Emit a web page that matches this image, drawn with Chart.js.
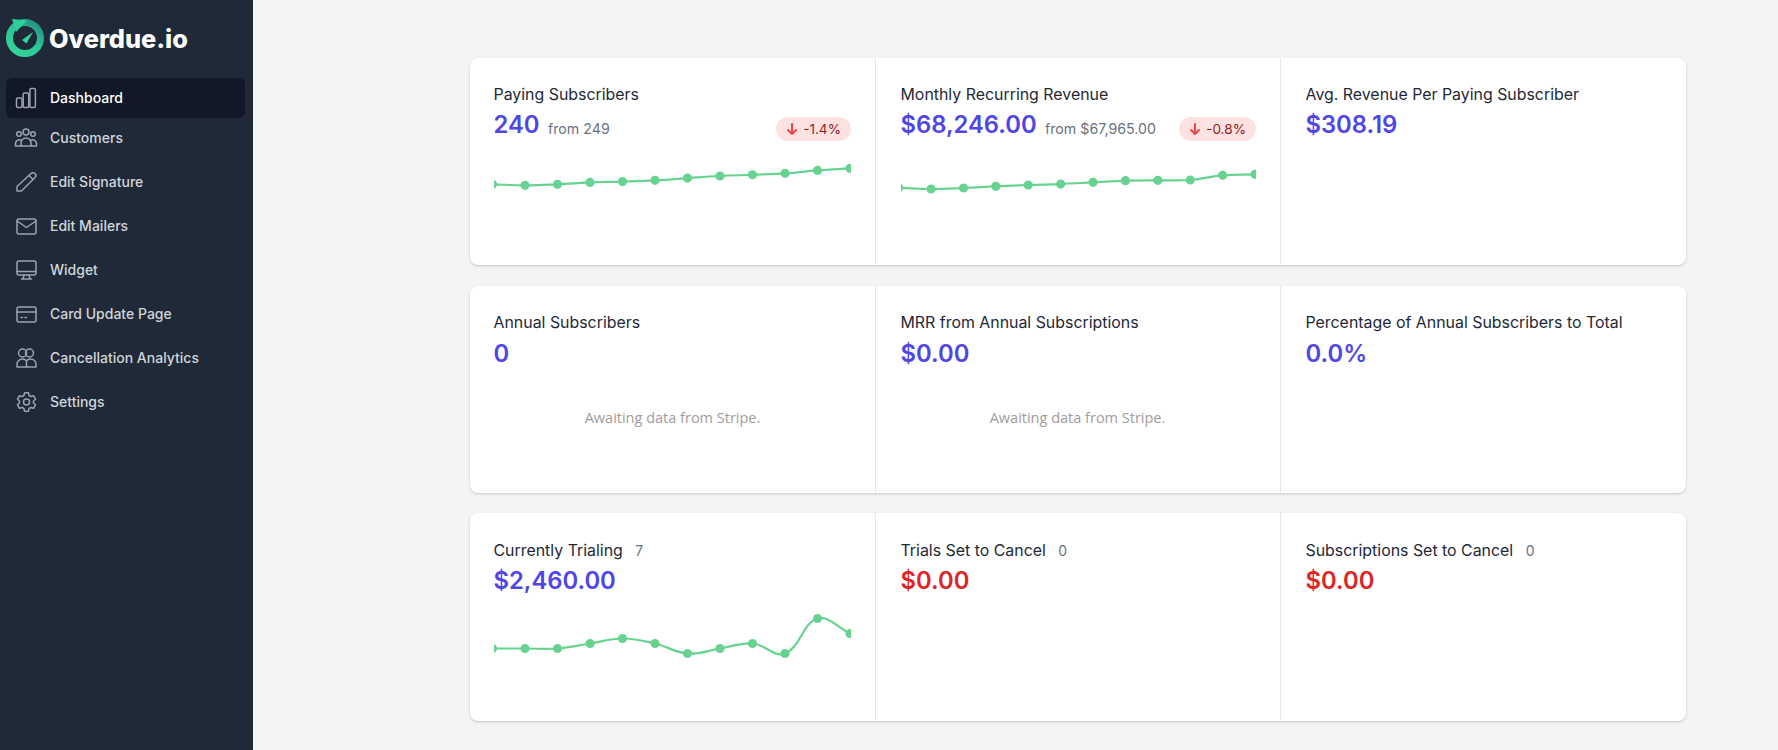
<!DOCTYPE html>
<html lang="en">
<head>
  <meta charset="UTF-8">
  <title>Overdue.io Dashboard</title>
  <style>
    * { box-sizing: border-box; }
    html, body { margin: 0; height: 100%; overflow: hidden; }
    body { background: #f3f4f6; font-family: Inter, "Noto Sans", sans-serif; color: #111827; }
    .abs, .nav, .title, .value, .from, .badge, .await { position: absolute; white-space: nowrap; }

    /* sidebar */
    #side { position: absolute; left: 0; top: 0; width: 253px; height: 750px; background: #1f2937; }
    #brand { position: absolute; left: 49px; top: 20px; font-size: 25.3px; font-weight: 800; line-height: 38px; color: #fff; }
    #active { position: absolute; left: 6px; top: 78px; width: 239px; height: 40px; border-radius: 6px; background: #111827; }
    .nav { left: 50px; font-size: 14px; font-weight: 500; line-height: 20px; color: #d1d5db; }
    .nav.on { color: #fff; }
    .ico { position: absolute; left: 14px; width: 24px; height: 24px; fill: none; stroke: #9ca3af; stroke-width: 1.5; stroke-linecap: round; stroke-linejoin: round; }

    /* cards */
    .card { position: absolute; left: 470px; width: 1216px; height: 207px; background: #fff; border-radius: 8px; box-shadow: 0 1px 3px rgba(0,0,0,.12), 0 1px 2px rgba(0,0,0,.08); }
    .div { position: absolute; top: 0; width: 1px; height: 100%; background: #e5e7eb; }
    .title { font-size: 15.9px; line-height: 24px; color: #1f2937; top: 25px; }
    .title span { margin-left: 8px; font-size: 14px; color: #6b7280; }
    .value { font-size: 23.8px; font-weight: 600; line-height: 36px; color: #4f46e5; top: 49px; }
    .value.red { color: #dc2626; }
    .from { font-size: 14.2px; line-height: 20px; color: #6b7280; top: 61px; }
    .badge { height: 24px; border-radius: 12px; background: #fee2e2; color: #991b1b; font-size: 13.6px; line-height: 24px; text-align: right; padding-right: 10px; top: 59px; }
    .badge svg { position: absolute; left: 9px; top: 5px; width: 14px; height: 14px; fill: none; stroke: #ef4444; stroke-width: 2; stroke-linecap: round; stroke-linejoin: round; }
    .await { width: 357px; text-align: center; font-family: "Open Sans", sans-serif; font-size: 14.5px; line-height: 20px; color: #a09c9c; top: 122px; }
    .spark { position: absolute; top: 100px; height: 60px; overflow: hidden; }
    .spark canvas { position: absolute; top: 0; }
    .lower .value { top: 50px; }
    #row3 .title { top: 26px; }
  </style>
</head>
<body>
  <div id="side">
    <svg class="abs" style="left:5px;top:17px" width="40" height="42" viewBox="0 0 40 42">
      <defs><linearGradient id="g" x1="0.9" y1="0" x2="0.2" y2="1"><stop offset="0" stop-color="#24907f"/><stop offset="0.5" stop-color="#2dc596"/><stop offset="1" stop-color="#34d39a"/></linearGradient></defs>
      <circle cx="20" cy="21" r="15.500" fill="none" stroke="url(#g)" stroke-width="7"/>
      <path d="M7 2 L22 3.500 L11 15 Z" fill="#2fcf9a"/>
      <path d="M17 23 L28 15 L21.500 26.500 Z" fill="#34d399"/>
    </svg>
    <div id="brand">Overdue.io</div>
    <div id="active"></div>

    <svg class="ico" style="top:86px" viewBox="0 0 24 24"><rect x="2.500" y="12" width="5.500" height="9.500" rx="1.200"/><rect x="9.200" y="7" width="5.500" height="14.500" rx="1.200"/><rect x="15.900" y="2.500" width="5.500" height="19" rx="1.200"/></svg>
    <div class="nav on" style="top:88px">Dashboard</div>

    <svg class="ico" style="top:126px" viewBox="0 0 24 24"><circle cx="12" cy="6" r="3"/><circle cx="5" cy="8" r="2.300"/><circle cx="19" cy="8" r="2.300"/><path d="M7 20v-3a5 5 0 0 1 10 0v3z"/><path d="M7 20H1.500v-2.500A4 4 0 0 1 7 14M17 20h5.500v-2.500A4 4 0 0 0 17 14"/></svg>
    <div class="nav" style="top:128px">Customers</div>

    <svg class="ico" style="top:170px" viewBox="0 0 24 24"><path d="M17 3.500a2.800 2.800 0 0 1 4 4L7.500 21H3v-4.500z"/><path d="M15 5.500l4 4"/></svg>
    <div class="nav" style="top:172px">Edit Signature</div>

    <svg class="ico" style="top:214px" viewBox="0 0 24 24"><rect x="3" y="5" width="19" height="15" rx="2"/><path d="M3 7l9.500 6.500L22 7"/></svg>
    <div class="nav" style="top:216px">Edit Mailers</div>

    <svg class="ico" style="top:258px" viewBox="0 0 24 24"><rect x="3" y="3" width="19" height="14" rx="2"/><path d="M3 13.500h19M10 17l-1 4M15 17l1 4M7.500 21h10"/></svg>
    <div class="nav" style="top:260px">Widget</div>

    <svg class="ico" style="top:302px" viewBox="0 0 24 24"><rect x="3" y="5" width="19" height="15" rx="2"/><path d="M3 10h19M7 15.500h1.500M11 15.500h1.500"/></svg>
    <div class="nav" style="top:304px">Card Update Page</div>

    <svg class="ico" style="top:346px" viewBox="0 0 24 24"><circle cx="8.500" cy="7" r="4"/><circle cx="15.500" cy="7" r="4"/><path d="M3 21v-2.500a5.500 5.500 0 0 1 9.500-3.800A5.500 5.500 0 0 1 22 18.500V21z"/><path d="M12.500 14.700V21"/></svg>
    <div class="nav" style="top:348px">Cancellation Analytics</div>

    <svg class="ico" style="top:390px" viewBox="0 0 24 24"><circle cx="12.500" cy="12" r="3"/><path d="M10.500 2.800h4l.6 2.700 1.800 1 2.600-.8 2 3.500-2 1.800v2l2 1.800-2 3.500-2.600-.8-1.800 1-.6 2.700h-4l-.6-2.700-1.800-1-2.600.8-2-3.500 2-1.800v-2l-2-1.800 2-3.500 2.600.8 1.800-1z"/></svg>
    <div class="nav" style="top:392px">Settings</div>
  </div>

  <!-- row 1 -->
  <div class="card" style="top:58px">
    <div class="div" style="left:405px"></div><div class="div" style="left:810px"></div>
    <div class="title" style="left:23.500px">Paying Subscribers</div>
    <div class="value" style="left:23.500px">240</div>
    <div class="from" style="left:78px">from 249</div>
    <div class="badge" style="left:306px;width:75px"><svg viewBox="0 0 14 14"><path d="M7 2v10M3 8l4 4 4-4"/></svg>-1.4%</div>
    <div class="spark" style="left:24px;width:357px"><canvas id="chartPaying"></canvas></div>

    <div class="title" style="left:430.500px">Monthly Recurring Revenue</div>
    <div class="value" style="left:430.500px">$68,246.00</div>
    <div class="from" style="left:575px">from $67,965.00</div>
    <div class="badge" style="left:709px;width:77px"><svg viewBox="0 0 14 14"><path d="M7 2v10M3 8l4 4 4-4"/></svg>-0.8%</div>
    <div class="spark" style="left:431px;width:355px"><canvas id="chartMrr"></canvas></div>

    <div class="title" style="left:835.500px">Avg. Revenue Per Paying Subscriber</div>
    <div class="value" style="left:835.500px">$308.19</div>
  </div>

  <!-- row 2 -->
  <div class="card lower" style="top:286px">
    <div class="div" style="left:405px"></div><div class="div" style="left:810px"></div>
    <div class="title" style="left:23.500px">Annual Subscribers</div>
    <div class="value" style="left:23.500px">0</div>
    <div class="await" style="left:24px">Awaiting data from Stripe.</div>

    <div class="title" style="left:430.500px">MRR from Annual Subscriptions</div>
    <div class="value" style="left:430.500px">$0.00</div>
    <div class="await" style="left:429px">Awaiting data from Stripe.</div>

    <div class="title" style="left:835.500px">Percentage of Annual Subscribers to Total</div>
    <div class="value" style="left:835.500px">0.0%</div>
  </div>

  <!-- row 3 -->
  <div class="card lower" id="row3" style="top:513px;height:208px">
    <div class="div" style="left:405px"></div><div class="div" style="left:810px"></div>
    <div class="title" style="left:23.500px">Currently Trialing <span>7</span></div>
    <div class="value" style="left:23.500px">$2,460.00</div>
    <div class="spark" style="left:24px;width:357px"><canvas id="chartTrialing"></canvas></div>

    <div class="title" style="left:430.500px">Trials Set to Cancel <span>0</span></div>
    <div class="value red" style="left:430.500px">$0.00</div>

    <div class="title" style="left:835.500px">Subscriptions Set to Cancel <span>0</span></div>
    <div class="value red" style="left:835.500px">$0.00</div>
  </div>

  <script src="https://cdn.jsdelivr.net/npm/chart.js"></script>
  <script>
    const months = ['Jan', 'Feb', 'Mar', 'Apr', 'May', 'Jun', 'Jul', 'Aug', 'Sep', 'Oct', 'Nov', 'Dec'];
    const payingSubscribers = [163, 158, 163, 172, 176, 182, 193, 203, 209, 216, 230, 240];
    const monthlyRevenue = [47400, 45300, 46900, 49500, 51600, 53100, 55700, 58300, 58900, 59400, 66700, 68246];
    const trialingCustomers = [4, 4, 4, 5, 6, 5, 3, 4, 5, 3, 10, 7];

    function sparkline(id, values, yMin, yMax, leftShift, padLeft, padRight) {
      const canvas = document.getElementById(id);
      canvas.style.left = leftShift + 'px';
      canvas.width = 360;
      canvas.height = 60;
      return new Chart(canvas, {
        type: 'line',
        data: {
          labels: months,
          datasets: [{
            data: values,
            borderColor: '#68d391',
            backgroundColor: '#68d391',
            borderWidth: 2.2,
            pointRadius: 3.500,
            pointHoverRadius: 3.500,
            tension: 0.4,
            fill: false,
            clip: false
          }]
        },
        options: {
          responsive: false,
          animation: false,
          layout: { autoPadding: false, padding: { left: padLeft, right: padRight, top: 0, bottom: 0 } },
          plugins: { legend: { display: false }, tooltip: { enabled: false } },
          scales: {
            x: { display: false },
            y: { display: false, min: yMin, max: yMax }
          }
        }
      });
    }

    sparkline('chartPaying', payingSubscribers, 0, 290, -2, 0.5, 2);
    sparkline('chartMrr', monthlyRevenue, 0, 93800, -3, 0.7, 3);
    sparkline('chartTrialing', trialingCustomers, -0.9, 11.1, -2, 0.5, 2);
  </script>
</body>
</html>
